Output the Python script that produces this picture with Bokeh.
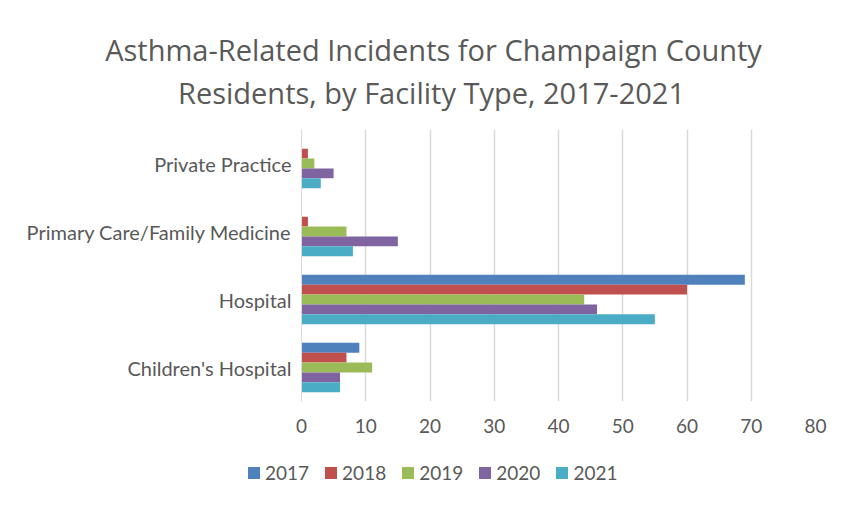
from bokeh.plotting import figure
from bokeh.layouts import column, row
from bokeh.models import Range1d, FactorRange, Label, Legend, LegendItem, FixedTicker
from bokeh.transform import dodge
from bokeh.embed import file_html
from bokeh.resources import INLINE

categories = ["Children's Hospital", "Hospital", "Primary Care/Family Medicine", "Private Practice"]
years = ["2017", "2018", "2019", "2020", "2021"]
v2017 = [9, 69, 0, 0]
v2018 = [7, 60, 1, 1]
v2019 = [11, 44, 7, 2]
v2020 = [6, 46, 15, 5]
v2021 = [6, 55, 8, 3]
x_ticks = [0, 10, 20, 30, 40, 50, 60, 70, 80]
title_line1 = "Asthma-Related Incidents for Champaign County"
title_line2 = "Residents, by Facility Type, 2017-2021"

series = [v2017, v2018, v2019, v2020, v2021]
colors = ["#4F81BD", "#C0504D", "#9BBB59", "#8064A2", "#4BACC6"]
FONT = "Lato"
TFONT = "Open Sans"
TXT = "#595959"
W = 833

HAS_ALIGN = hasattr(type(figure()), "frame_align")


def strip(height):
    f = figure(width=W, height=height, output_backend="svg", toolbar_location=None,
               x_axis_type=None, y_axis_type=None, x_range=Range1d(0, 1), y_range=Range1d(0, 1),
               min_border=0, title=None)
    f.outline_line_color = None
    f.grid.visible = False
    if HAS_ALIGN:
        f.frame_align = False
    return f


# ---- title strip ----
tfig = strip(129)
for txt, x, y in [(title_line1, 433, 80), (title_line2, 431, 37)]:
    tfig.add_layout(Label(x=x, y=y, x_units="screen", y_units="screen", text=txt,
                          text_align="center", text_baseline="alphabetic", text_font=TFONT,
                          text_font_size="29px", text_color=TXT))

# ---- main chart ----
p = figure(frame_width=514, frame_height=272, output_backend="svg", toolbar_location=None,
           y_range=FactorRange(*categories), x_range=Range1d(0, 80), title=None,
           min_border_left=301, min_border_right=18, min_border_top=0, min_border_bottom=50)
if HAS_ALIGN:
    p.frame_align = False
p.outline_line_color = None
p.background_fill_color = "white"
p.border_fill_color = "white"

bar_h = 0.145
offsets = [2 * bar_h, bar_h, 0, -bar_h, -2 * bar_h]
for yr, vals, col, off in zip(years, series, colors, offsets):
    src = {"cat": categories, "val": vals}
    p.hbar(y=dodge("cat", off, range=p.y_range), right="val", left=0, height=bar_h,
           source=src, fill_color=col, line_color=None)

p.xaxis.ticker = FixedTicker(ticks=x_ticks)
p.xaxis.axis_line_color = None
p.xaxis.major_tick_line_color = None
p.xaxis.minor_tick_line_color = None
p.xaxis.major_label_text_font = FONT
p.xaxis.major_label_text_font_size = "19px"
p.xaxis.major_label_text_color = TXT
p.xaxis.major_label_standoff = 11

p.yaxis.axis_line_color = "#D9D9D9"
p.yaxis.major_tick_line_color = None
p.yaxis.minor_tick_line_color = None
p.yaxis.major_label_text_font = FONT
p.yaxis.major_label_text_font_size = "20px"
p.yaxis.major_label_text_color = TXT
p.yaxis.major_label_standoff = 4

p.xgrid.grid_line_color = "#D9D9D9"
p.xgrid.grid_line_width = 1.5
p.ygrid.grid_line_color = None

# ---- legend strip ----
lfig = strip(40)
items = []
for yr, col in zip(years, colors):
    # zero-size proxy renderer, only used to give the legend its swatch colour
    r = lfig.hbar(y=[0], left=[0], right=[0], height=0, fill_color=col, line_color=None)
    items.append(LegendItem(label=yr, renderers=[r]))
legend = Legend(items=items, orientation="horizontal", location=(246, 7),
                glyph_width=15, glyph_height=15, label_standoff=4, spacing=14,
                padding=0, margin=0, border_line_color=None, background_fill_alpha=0,
                label_text_font=FONT, label_text_font_size="19px", label_text_color=TXT,
                label_height=20)
lfig.add_layout(legend, "center")

if HAS_ALIGN:
    layout = column(tfig, p, lfig, spacing=0)
else:
    layout = column(row(tfig), p, row(lfig), spacing=0)
open("out.html", "w").write(file_html(layout, INLINE))
